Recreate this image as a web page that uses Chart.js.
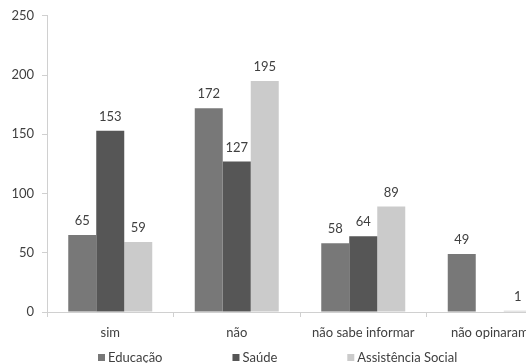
<!DOCTYPE html>
<html>
<head>
<meta charset="utf-8">
<script src="https://cdn.jsdelivr.net/npm/chart.js@4"></script>
<style>
html,body{margin:0;padding:0;background:#fff;overflow:hidden;}
#wrap{width:526px;height:363px;overflow:hidden;position:relative;}
canvas{display:block;}
</style>
</head>
<body>
<div id="wrap"><canvas id="c" width="560" height="363"></canvas></div>
<script>
const categories = ["sim", "não", "não sabe informar", "não opinaram"];
const seriesNames = ["Educação", "Saúde", "Assistência Social"];
const educacao = [65, 172, 58, 49];
const saude = [153, 127, 64, null];
const assistencia = [59, 195, 89, 1];
const seriesColors = ["#787878", "#565656", "#cbcbcb"];
const yTicks = [0, 50, 100, 150, 200, 250];

const FONT = "Lato";
const TEXT = "#404040";
const AXIS = "#d0d0d0";

const valueLabels = {
  id: "valueLabels",
  afterDatasetsDraw(chart) {
    const ctx = chart.ctx;
    ctx.save();
    ctx.font = "13px " + FONT;
    ctx.fillStyle = TEXT;
    ctx.textAlign = "center";
    ctx.textBaseline = "middle";
    chart.data.datasets.forEach((ds, i) => {
      const meta = chart.getDatasetMeta(i);
      meta.data.forEach((el, j) => {
        const v = ds.data[j];
        if (v === null || v === undefined) return;
        ctx.fillText(String(v), el.x, el.y - 14);
      });
    });
    ctx.restore();
  }
};

const customLegend = {
  id: "customLegend",
  afterDraw(chart) {
    const ctx = chart.ctx;
    ctx.save();
    ctx.font = "13px " + FONT;
    ctx.textBaseline = "middle";
    ctx.textAlign = "left";
    const box = 7, gapBoxText = 3, gapItems = 70;
    const items = chart.data.datasets.map(ds => ({
      text: ds.label, color: ds.backgroundColor,
      w: box + gapBoxText + ctx.measureText(ds.label).width
    }));
    let x = 98;
    const y = 357.5;
    items.forEach(it => {
      ctx.fillStyle = it.color;
      ctx.fillRect(x, y - box / 2, box, box);
      ctx.fillStyle = TEXT;
      ctx.fillText(it.text, x + box + gapBoxText, y);
      x += it.w + gapItems;
    });
    ctx.restore();
  }
};

new Chart(document.getElementById("c"), {
  type: "bar",
  data: {
    labels: categories,
    datasets: [
      { label: seriesNames[0], data: educacao, backgroundColor: seriesColors[0] },
      { label: seriesNames[1], data: saude, backgroundColor: seriesColors[1] },
      { label: seriesNames[2], data: assistencia, backgroundColor: seriesColors[2] }
    ]
  },
  options: {
    responsive: false,
    maintainAspectRatio: false,
    animation: false,
    layout: { padding: { left: 0, right: 7, top: 15, bottom: 0 } },
    datasets: { bar: { barPercentage: 1, categoryPercentage: 0.664, borderWidth: 0 } },
    plugins: {
      legend: { display: false },
      tooltip: { enabled: false },
      title: { display: false }
    },
    scales: {
      x: {
        afterFit(s) { s.height = 51; },
        grid: { display: true, drawOnChartArea: false, drawTicks: true, tickLength: 5, color: AXIS, offset: true },
        border: { display: true, color: AXIS, width: 1 },
        ticks: { color: TEXT, font: { family: FONT, size: 13 }, padding: 8, maxRotation: 0, autoSkip: false }
      },
      y: {
        min: 0, max: 250,
        afterFit(s) { s.width = 47; },
        afterBuildTicks(s) { s.ticks = yTicks.map(v => ({ value: v })); },
        grid: { display: true, drawOnChartArea: false, drawTicks: true, tickLength: 5, color: AXIS },
        border: { display: true, color: AXIS, width: 1 },
        ticks: { color: TEXT, font: { family: FONT, size: 13 }, padding: 8 }
      }
    }
  },
  plugins: [valueLabels, customLegend]
});
</script>
</body>
</html>
